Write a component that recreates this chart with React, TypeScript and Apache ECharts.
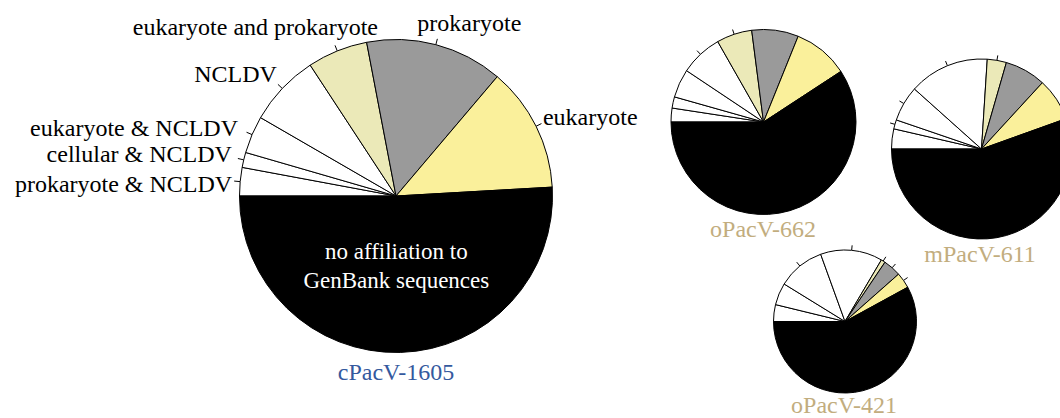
import React, { useEffect, useRef } from "react";
import * as echarts from "echarts";

// ---- data ----
const categories = [
  "prokaryote & NCLDV",
  "cellular & NCLDV",
  "eukaryote & NCLDV",
  "NCLDV",
  "eukaryote and prokaryote",
  "prokaryote",
  "eukaryote",
  "no affiliation to\nGenBank sequences",
];
const cPacV1605 = [47, 25, 62, 119, 100, 228, 207, 817];
const oPacV662 = [16, 13, 33, 49, 41, 54, 64, 392];
const mPacV611 = [22, 10, 39, 88, 21, 45, 47, 339];
const oPacV421 = [16, 21, 45, 59, 4, 17, 15, 244];
const pieNames = ["cPacV-1605", "oPacV-662", "mPacV-611", "oPacV-421"];

// ---- styling / layout ----
const sliceColors = ["#ffffff", "#ffffff", "#ffffff", "#ffffff", "#ebe9b8", "#9a9a9a", "#faf09b", "#000000"];
const ticks662 = [false, false, false, true, true, false, false, false];
const ticks611 = [false, true, true, true, true, false, false, false];
const ticks421 = [false, false, true, true, true, true, true, false];
const mainLabelNudge = [[3, 3], [-1, -4], [-3.5, -4], [4, -10.5], [48, -18], [-25, -16], [-3.5, -7], [-2, -11]];
const FONT = "'Liberation Serif', 'Times New Roman', Times, serif";
const blue = "#34599e";
const tan = "#c2ad7e";

function smallData(values: number[], ticks: boolean[]) {
  return values.map((v, i) => ({
    value: v,
    name: categories[i],
    itemStyle: { color: sliceColors[i] },
    label: { show: ticks[i] },
    labelLine: { show: ticks[i] },
  }));
}

export default function App() {
  const ref = useRef<HTMLDivElement>(null);
  useEffect(() => {
    if (!ref.current) return;
    const chart = echarts.init(ref.current, undefined, { renderer: "svg" });

    const baseSeries = {
      type: "pie" as const,
      startAngle: 180,
      clockwise: true,
      avoidLabelOverlap: false,
      silent: true,
      emphasis: { disabled: true },
      itemStyle: { borderColor: "#000", borderWidth: 1 },
      labelLayout: (p: any) => {
        if (p.seriesIndex === 0) {
          const o = mainLabelNudge[p.dataIndex];
          return { dx: o[0], dy: o[1], labelLinePoints: p.labelLinePoints };
        }
        return { labelLinePoints: p.labelLinePoints };
      },
    };

    const smallLabel = {
      show: false,
      formatter: () => " ",
      fontSize: 10,
    };
    const smallLine = { show: false, length: 5, length2: 0, lineStyle: { color: "#000", width: 1 } };

    const titleStyle = (color: string) => ({ fontFamily: FONT, fontSize: 24, lineHeight: 24, fontWeight: "normal", color });

    const option: any = {
      animation: false,
      backgroundColor: "#ffffff",
      textStyle: { fontFamily: FONT },
      title: [
        { text: pieNames[0], left: 396, top: 360, textAlign: "center", padding: 0, textStyle: titleStyle(blue) },
        { text: pieNames[1], left: 763, top: 217, textAlign: "center", padding: 0, textStyle: titleStyle(tan) },
        { text: pieNames[2], left: 980, top: 242, textAlign: "center", padding: 0, textStyle: titleStyle(tan) },
        { text: pieNames[3], left: 844, top: 393, textAlign: "center", padding: 0, textStyle: titleStyle(tan) },
      ],
      series: [
        {
          ...baseSeries,
          name: pieNames[0],
          center: [396, 196],
          radius: 156.5,
          label: {
            show: true,
            position: "outside",
            fontFamily: FONT,
            fontSize: 24,
            color: "#000",
            distanceToLabelLine: 5,
          },
          labelLine: { show: true, length: 6, length2: 0, lineStyle: { color: "#000", width: 1 } },
          data: cPacV1605.map((v, i) => {
            const last = i === cPacV1605.length - 1;
            return {
              value: v,
              name: categories[i],
              itemStyle: { color: sliceColors[i] },
              label: last
                ? { position: "inside", color: "#ffffff", fontFamily: FONT, fontSize: 23, lineHeight: 29, align: "center" }
                : { fontFamily: FONT },
              labelLine: last ? { show: false } : {},
            };
          }),
        },
        {
          ...baseSeries,
          name: pieNames[1],
          center: [763.5, 122],
          radius: 92.5,
          label: smallLabel,
          labelLine: smallLine,
          data: smallData(oPacV662, ticks662),
        },
        {
          ...baseSeries,
          name: pieNames[2],
          center: [981.5, 149],
          radius: 90,
          label: smallLabel,
          labelLine: smallLine,
          data: smallData(mPacV611, ticks611),
        },
        {
          ...baseSeries,
          name: pieNames[3],
          center: [845, 321.5],
          radius: 71.5,
          label: smallLabel,
          labelLine: smallLine,
          data: smallData(oPacV421, ticks421),
        },
      ],
    };
    chart.setOption(option);
    return () => chart.dispose();
  }, []);

  return (
    <div
      ref={ref}
      style={{ position: "fixed", left: 0, top: 0, width: 1060, height: 418, background: "#fff" }}
    />
  );
}
